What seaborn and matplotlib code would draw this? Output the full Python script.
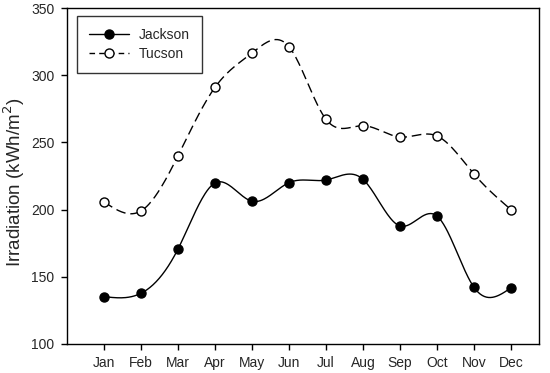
import numpy as np
import pandas as pd
import seaborn as sns
from matplotlib import pyplot as plt
from matplotlib.lines import Line2D

months = ["Jan", "Feb", "Mar", "Apr", "May", "Jun",
          "Jul", "Aug", "Sep", "Oct", "Nov", "Dec"]
jackson = [135.2, 137.7, 170.7, 219.8, 206.2, 220.0,
           222.0, 222.5, 187.8, 195.2, 142.2, 141.7]
tucson = [205.7, 199.0, 240.1, 291.0, 316.5, 321.2,
          267.2, 262.4, 254.0, 254.8, 226.5, 200.0]
y_ticks = [100, 150, 200, 250, 300, 350]


def natural_spline(x, y, n=400):
    # natural cubic spline through the points, like the SigmaPlot curve
    x = np.asarray(x, float)
    y = np.asarray(y, float)
    k = len(x)
    h = np.diff(x)
    A = np.zeros((k, k))
    b = np.zeros(k)
    A[0, 0] = A[-1, -1] = 1
    for i in range(1, k - 1):
        A[i, i - 1] = h[i - 1]
        A[i, i] = 2 * (h[i - 1] + h[i])
        A[i, i + 1] = h[i]
        b[i] = 6 * ((y[i + 1] - y[i]) / h[i] - (y[i] - y[i - 1]) / h[i - 1])
    m = np.linalg.solve(A, b)
    xs = np.linspace(x[0], x[-1], n)
    idx = np.clip(np.searchsorted(x, xs) - 1, 0, k - 2)
    x0, x1 = x[idx], x[idx + 1]
    hh = x1 - x0
    t0, t1 = x1 - xs, xs - x0
    ys = (m[idx] * t0 ** 3 + m[idx + 1] * t1 ** 3) / (6 * hh) \
        + (y[idx] / hh - m[idx] * hh / 6) * t0 \
        + (y[idx + 1] / hh - m[idx + 1] * hh / 6) * t1
    return xs, ys


sns.set_style("ticks")
plt.rcParams["font.family"] = ["Liberation Sans", "DejaVu Sans"]

x = np.arange(1, len(months) + 1)
df = pd.DataFrame({"x": x, "Jackson": jackson, "Tucson": tucson})

fig = plt.figure(figsize=(5.5, 3.73), dpi=100)
ax = fig.add_axes([0.122, 0.078, 0.858, 0.9005])

xs, ys = natural_spline(x, jackson)
sns.lineplot(x=xs, y=ys, color="black", lw=1, ax=ax, sort=False)
xs, ys = natural_spline(x, tucson)
sns.lineplot(x=xs, y=ys, color="black", lw=1, ax=ax, sort=False,
             dashes=False, linestyle=(0, (7, 3.5)))

ax.plot(df["x"], df["Jackson"], ls="none", marker="o", ms=6.5,
        mfc="black", mec="black", mew=1, zorder=3)
ax.plot(df["x"], df["Tucson"], ls="none", marker="o", ms=6.5,
        mfc="white", mec="black", mew=1, zorder=3)

ax.set_xlim(0, 12.76)
ax.set_ylim(100, 350)
ax.set_xticks(x)
ax.set_xticklabels(months)
ax.set_yticks(y_ticks)
ax.tick_params(labelsize=10, length=4, width=1, color="black", pad=5)
ax.set_ylabel("Irradiation (kWh/m$^2$)", fontsize=13.5)
ax.yaxis.set_label_coords(-0.086, 0.48)
ax.set_xlabel("")
for sp in ax.spines.values():
    sp.set_visible(True)
    sp.set_linewidth(1)
    sp.set_color("black")

handles = [
    Line2D([], [], color="black", lw=1, marker="o", ms=6.5,
           mfc="black", mec="black"),
    Line2D([], [], color="black", lw=1, ls=(0, (4, 3)), marker="o", ms=6.5,
           mfc="white", mec="black"),
]
leg = ax.legend(handles, ["Jackson", "Tucson"], loc="upper left",
                bbox_to_anchor=(0.021, 0.976), fontsize=10, frameon=True,
                fancybox=False, edgecolor="black", numpoints=1,
                handlelength=2.9, borderpad=0.85, labelspacing=0.35,
                handletextpad=0.7, borderaxespad=0)
leg.get_frame().set_linewidth(1)

fig.savefig("out.png", dpi=100)
